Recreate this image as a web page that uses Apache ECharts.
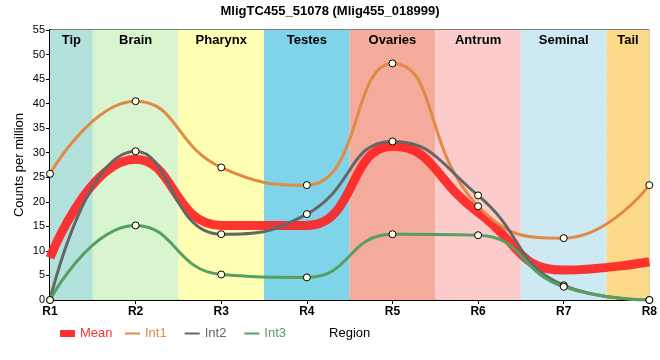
<!DOCTYPE html>
<html><head><meta charset="utf-8">
<script src="https://cdn.jsdelivr.net/npm/echarts@6/dist/echarts.min.js"></script>
<style>html,body{margin:0;padding:0;background:#fff}#c{width:660px;height:360px}</style>
</head><body><div id="c"></div>
<script>
const categories = ['R1','R2','R3','R4','R5','R6','R7','R8'];
const regions = ['Tip','Brain','Pharynx','Testes','Ovaries','Antrum','Seminal','Tail'];
const regionColors = ['#b3e2dd','#d8f5d0','#ffffb3','#80d4ea','#f4ab9c','#fccccc','#cdeaf4','#fdda8a'];
const int1 = [25.7, 40.5, 27.0, 23.4, 48.2, 19.1, 12.6, 23.4];
const int2 = [0, 30.3, 13.4, 17.5, 32.3, 21.3, 3.0, 0];
const int3 = [0, 15.2, 5.2, 4.6, 13.4, 13.2, 2.7, 0];
const mean = int1.map((v,i)=>+((v+int2[i]+int3[i])/3).toFixed(2));

const font = 'Liberation Sans, Arial, sans-serif';
const toXY = arr => arr.map((v,i)=>[i,v]);

const bands = regions.map((r,i)=>[
  {xAxis: Math.max(0,i-0.5), itemStyle:{color:regionColors[i]}, name:r},
  {xAxis: Math.min(7,i+0.5)}
]);

const markerStyle = {color:'#ffffe8', borderColor:'#000', borderWidth:1};
function intSeries(name, data, color){
  return {name, type:'line', data:toXY(data), smooth:0.5, symbol:'circle', symbolSize:7,
    lineStyle:{color, width:3}, itemStyle:Object.assign({}, markerStyle), color, z:3};
}
const legItem = (name,color)=>({name, textStyle:{color}, itemStyle:{color, borderWidth:0}});

const chart = echarts.init(document.getElementById('c'));
chart.setOption({
  animation:false,
  title:{text:'MligTC455_51078 (Mlig455_018999)', left:'center', top:0,
    textStyle:{fontFamily:font, fontSize:13, fontWeight:'bold', color:'#000'}},
  grid:{left:50, right:10, top:30, bottom:60, show:true, borderColor:'#000', borderWidth:1},
  xAxis:{type:'value', min:0, max:7, interval:1,
    name:'Region', nameLocation:'middle', nameGap:27,
    nameTextStyle:{fontFamily:font, fontSize:13, color:'#000'},
    axisLine:{lineStyle:{color:'#000', width:2}},
    axisTick:{show:true, length:4, lineStyle:{color:'#000'}},
    axisLabel:{formatter:v=>categories[v]||'', fontFamily:font, fontSize:12, fontWeight:'bold', color:'#000', margin:6},
    splitLine:{show:true, lineStyle:{color:'#c8c8c8', width:1}}},
  yAxis:{type:'value', min:0, max:55, interval:5,
    name:'Counts per million', nameLocation:'middle', nameGap:24, nameMoveOverlap:false,
    nameTextStyle:{fontFamily:font, fontSize:13, color:'#000'},
    axisLine:{show:true, lineStyle:{color:'#000', width:2}},
    axisTick:{show:true, length:4, lineStyle:{color:'#000'}},
    axisLabel:{fontFamily:font, fontSize:11, color:'#000', margin:5},
    splitLine:{show:true, lineStyle:{color:'#c8c8c8', width:1}}},
  legend:[
    {data:[legItem('Mean','#ff3030')], left:55, top:322, icon:'rect', itemWidth:15, itemHeight:7, itemGap:12,
      textStyle:{fontFamily:font, fontSize:13}},
    {data:[legItem('Int1','#e08a45'),legItem('Int2','#666666'),legItem('Int3','#55a060')],
      left:120, top:322, icon:'rect', itemWidth:15, itemHeight:2, itemGap:18,
      textStyle:{fontFamily:font, fontSize:13}}
  ],
  series:[
    {name:'bands', type:'line', data:[], silent:true,
      markArea:{silent:true, label:{show:true, position:'insideTop', distance:4, fontFamily:font, fontSize:13, fontWeight:'bold', color:'#000'}, data:bands}, z:0},
    {name:'Mean', type:'line', data:toXY(mean), smooth:0.5, symbol:'none', color:'#ff2a2a',
      lineStyle:{color:'#ff2020', width:9, opacity:0.9}, z:2},
    intSeries('Int1', int1, '#e08a45'),
    intSeries('Int2', int2, '#666666'),
    intSeries('Int3', int3, '#55a060')
  ]
});
</script></body></html>
